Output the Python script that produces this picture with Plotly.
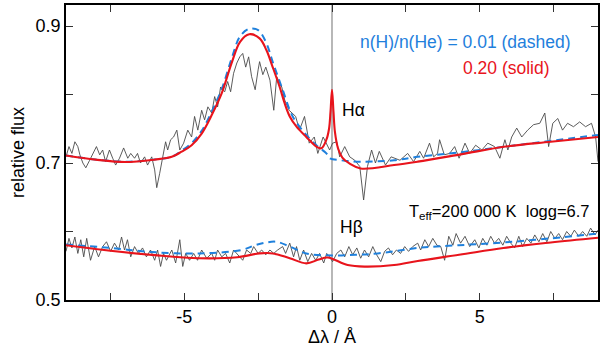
import plotly.graph_objects as go

# ---------------- data ----------------
# observed spectrum, H-alpha region (upper)
obs_a_x = [-9.0, -8.9, -8.8, -8.7, -8.6, -8.53, -8.43, -8.33, -8.2, -8.07, -7.97, -7.86, -7.76, -7.66,
           -7.53, -7.42, -7.32, -7.19, -7.05, -6.91, -6.81, -6.68, -6.58, -6.48, -6.34, -6.24, -6.1,
           -6.0, -5.93, -5.83, -5.73, -5.63, -5.56, -5.46, -5.36, -5.25, -5.15, -5.02, -4.88, -4.75,
           -4.65, -4.54, -4.41, -4.31, -4.2, -4.07, -3.97, -3.87, -3.77, -3.63, -3.53, -3.43, -3.33,
           -3.22, -3.12, -3.02, -2.92, -2.82, -2.72, -2.6, -2.5, -2.45, -2.34, -2.24, -2.1, -1.97,
           -1.87, -1.7, -1.6, -1.45, -1.23, -1.1, -0.93, -0.77, -0.6, -0.48, -0.3, -0.14, -0.08,
           0.02, 0.16, 0.26, 0.43, 0.6, 0.77, 0.94, 1.07, 1.2, 1.34, 1.47, 1.6, 1.81, 2.0, 2.3,
           2.56, 2.76, 2.97, 3.1, 3.3, 3.44, 3.57, 3.64, 3.8, 3.98, 4.15, 4.3, 4.5, 4.66, 4.86,
           5.07, 5.27, 5.5, 5.68, 5.85, 5.95, 6.08, 6.25, 6.42, 6.62, 6.82, 7.03, 7.2, 7.33, 7.47,
           7.64, 7.8, 7.97, 8.17, 8.38, 8.58, 8.78, 8.92, 9.0]
obs_a_y = [0.709, 0.724, 0.714, 0.731, 0.724, 0.712, 0.700, 0.693, 0.704, 0.716, 0.724, 0.712, 0.719, 0.702,
           0.719, 0.707, 0.697, 0.707, 0.722, 0.707, 0.714, 0.707, 0.714, 0.700, 0.709, 0.697, 0.709,
           0.690, 0.664, 0.685, 0.709, 0.731, 0.719, 0.734, 0.738, 0.748, 0.719, 0.729, 0.748, 0.738,
           0.768, 0.748, 0.777, 0.763, 0.782, 0.773, 0.797, 0.782, 0.811, 0.804, 0.819, 0.804, 0.831,
           0.846, 0.855, 0.860, 0.840, 0.855, 0.826, 0.807, 0.836, 0.848, 0.829, 0.840, 0.821, 0.777,
           0.826, 0.811, 0.792, 0.777, 0.768, 0.748, 0.768, 0.729, 0.738, 0.714, 0.738, 0.724, 0.719,
           0.729, 0.731, 0.709, 0.724, 0.709, 0.704, 0.695, 0.646, 0.695, 0.719, 0.700, 0.717, 0.697,
           0.709, 0.704, 0.714, 0.702, 0.717, 0.707, 0.729, 0.709, 0.714, 0.734, 0.712, 0.714, 0.724,
           0.707, 0.729, 0.714, 0.726, 0.719, 0.729, 0.724, 0.707, 0.734, 0.719, 0.738, 0.751, 0.738,
           0.748, 0.756, 0.758, 0.773, 0.724, 0.758, 0.765, 0.748, 0.758, 0.753, 0.760, 0.753, 0.758,
           0.738, 0.702]

# observed spectrum, H-beta region (lower)
obs_b_x = [-9.0, -8.9, -8.8, -8.7, -8.6, -8.5, -8.4, -8.3, -8.17, -8.03, -7.9, -7.76, -7.63, -7.49,
           -7.36, -7.22, -7.12, -7.02, -6.92, -6.81, -6.68, -6.55, -6.41, -6.28, -6.14, -6.0, -5.9,
           -5.8, -5.7, -5.6, -5.42, -5.29, -5.15, -5.05, -4.95, -4.82, -4.68, -4.55, -4.41, -4.24,
           -4.07, -3.97, -3.87, -3.73, -3.6, -3.46, -3.33, -3.2, -3.02, -2.89, -2.75, -2.65, -2.5,
           -2.38, -2.24, -2.1, -1.97, -1.84, -1.67, -1.57, -1.43, -1.3, -1.2, -1.09, -0.96, -0.82,
           -0.69, -0.55, -0.42, -0.28, -0.18, -0.08, 0.02, 0.16, 0.3, 0.43, 0.57, 0.7, 0.84, 0.97,
           1.1, 1.24, 1.38, 1.51, 1.65, 1.78, 1.91, 2.05, 2.18, 2.32, 2.46, 2.59, 2.73, 2.9, 3.0,
           3.14, 3.27, 3.41, 3.55, 3.68, 3.81, 3.95, 4.09, 4.2, 4.35, 4.5, 4.66, 4.83, 4.97, 5.1,
           5.24, 5.37, 5.5, 5.64, 5.78, 5.91, 6.05, 6.18, 6.32, 6.45, 6.59, 6.73, 6.86, 7.0, 7.13,
           7.27, 7.4, 7.54, 7.67, 7.8, 7.94, 8.08, 8.2, 8.35, 8.48, 8.62, 8.75, 8.9, 9.0]
obs_b_y = [0.571, 0.590, 0.576, 0.592, 0.568, 0.588, 0.563, 0.590, 0.558, 0.578, 0.563, 0.578, 0.585, 0.571,
           0.583, 0.573, 0.592, 0.573, 0.588, 0.563, 0.578, 0.568, 0.576, 0.563, 0.573, 0.558, 0.573,
           0.549, 0.568, 0.558, 0.573, 0.554, 0.588, 0.549, 0.568, 0.558, 0.568, 0.558, 0.573, 0.561,
           0.568, 0.558, 0.573, 0.563, 0.568, 0.554, 0.573, 0.566, 0.558, 0.573, 0.568, 0.578, 0.568,
           0.573, 0.566, 0.573, 0.568, 0.573, 0.578, 0.568, 0.583, 0.563, 0.578, 0.558, 0.573, 0.556,
           0.568, 0.558, 0.568, 0.554, 0.568, 0.563, 0.556, 0.568, 0.573, 0.563, 0.578, 0.566, 0.576,
           0.561, 0.573, 0.563, 0.578, 0.566, 0.556, 0.571, 0.576, 0.566, 0.573, 0.568, 0.578, 0.571,
           0.578, 0.583, 0.573, 0.588, 0.578, 0.590, 0.580, 0.578, 0.558, 0.593, 0.580, 0.597, 0.583,
           0.593, 0.578, 0.588, 0.576, 0.590, 0.580, 0.593, 0.583, 0.590, 0.580, 0.593, 0.583, 0.576,
           0.593, 0.578, 0.590, 0.583, 0.595, 0.585, 0.597, 0.585, 0.600, 0.590, 0.597, 0.588, 0.600,
           0.593, 0.602, 0.593, 0.600, 0.593, 0.605, 0.595, 0.602]

# model n(H)/n(He)=0.20 (solid), H-alpha
sol_a_x = [-9.0, -8.0, -7.0, -6.0, -5.42, -5.09, -4.75, -4.41, -4.07, -3.73, -3.40, -3.11, -2.8,
           -2.45, -2.22, -2.01, -1.77, -1.60, -1.43, -1.20, -0.87, -0.53, -0.36, -0.19, -0.1, -0.05,
           0.0, 0.05, 0.1, 0.2, 0.35, 0.6, 0.97, 2.1, 2.9, 4.4, 5.88, 7.4, 9.0]
sol_a_y = [0.711, 0.705, 0.7015, 0.705, 0.709, 0.7165, 0.726, 0.743, 0.770, 0.802, 0.8455, 0.877, 0.888,
           0.882, 0.865, 0.8405, 0.811, 0.787, 0.768, 0.753, 0.738, 0.724, 0.7215, 0.734, 0.750, 0.775,
           0.807, 0.775, 0.745, 0.722, 0.708, 0.699, 0.692, 0.697, 0.702, 0.713, 0.724, 0.731, 0.738]

# model n(H)/n(He)=0.01 (dashed), H-alpha
das_a_x = [-9.0, -8.0, -7.0, -6.0, -5.42, -5.09, -4.75, -4.41, -4.07, -3.73, -3.40, -3.11, -2.8,
           -2.5, -2.22, -2.01, -1.67, -1.33, -0.87, -0.53, -0.19, -0.08, 0.3, 0.97, 2.1, 2.9, 4.5,
           5.88, 9.0]
das_a_y = [0.711, 0.705, 0.702, 0.705, 0.709, 0.718, 0.729, 0.747, 0.775, 0.808, 0.852, 0.885, 0.896,
           0.894, 0.875, 0.848, 0.807, 0.768, 0.741, 0.726, 0.714, 0.707, 0.704, 0.702, 0.704, 0.709,
           0.7165, 0.724, 0.741]

# model n(H)/n(He)=0.20 (solid), H-beta
sol_b_x = [-9.0, -7.5, -6.0, -4.5, -3.2, -2.45, -2.0, -1.43, -0.87, -0.45, -0.15, 0.53, 1.1, 2.1, 2.9,
           4.3, 5.8, 7.4, 9.0]
sol_b_y = [0.580, 0.572, 0.5655, 0.561, 0.5625, 0.568, 0.568, 0.561, 0.5535, 0.559, 0.562, 0.551,
           0.5487, 0.551, 0.557, 0.566, 0.576, 0.584, 0.591]

# model n(H)/n(He)=0.01 (dashed), H-beta
das_b_x = [-9.0, -7.5, -6.1, -4.5, -3.06, -2.6, -2.22, -1.88, -1.43, -0.87, 0.0, 0.8, 1.55, 2.9, 4.3,
           5.8, 7.4, 9.0]
das_b_y = [0.581, 0.576, 0.570, 0.568, 0.573, 0.580, 0.584, 0.585, 0.578, 0.568, 0.565, 0.566, 0.568,
           0.576, 0.580, 0.584, 0.590, 0.597]

x_ticks = [-5, 0, 5]
y_ticks = [0.5, 0.7, 0.9]

RED = "#e8141c"
BLUE = "#1f80dc"
GRAY = "#4a4a4a"
FONT = "Liberation Sans, Arial, sans-serif"

fig = go.Figure()

for xs, ys in [(obs_a_x, obs_a_y), (obs_b_x, obs_b_y)]:
    fig.add_trace(go.Scatter(x=xs, y=ys, mode="lines",
                             line=dict(color=GRAY, width=0.9), showlegend=False))
for xs, ys in [(das_a_x, das_a_y), (das_b_x, das_b_y)]:
    fig.add_trace(go.Scatter(x=xs, y=ys, mode="lines", line_shape="spline",
                             line=dict(color=BLUE, width=2, dash="7px,5px"), showlegend=False))
for xs, ys in [(sol_a_x, sol_a_y), (sol_b_x, sol_b_y)]:
    fig.add_trace(go.Scatter(x=xs, y=ys, mode="lines", line_shape="spline",
                             line=dict(color=RED, width=2.1), showlegend=False))

fig.add_vline(x=0, line=dict(color="#888888", width=1.2), layer="below")

annots = [
    dict(x=8.15, y=0.8766, text="n(H)/n(He) = 0.01 (dashed)", xanchor="right",
         font=dict(color=BLUE, size=17.5, family=FONT)),
    dict(x=7.44, y=0.8387, text="0.20 (solid)", xanchor="right",
         font=dict(color=RED, size=17.5, family=FONT)),
    dict(x=0.26, y=0.7774, text="Hα", xanchor="left",
         font=dict(color="black", size=17.5, family=FONT)),
    dict(x=0.19, y=0.6066, text="Hβ", xanchor="left",
         font=dict(color="black", size=17.5, family=FONT)),
    dict(x=2.53, y=0.628, text="T<sub>eff</sub>=200 000 K  logg=6.7", xanchor="left",
         font=dict(color="black", size=16.5, family=FONT)),
]
for a in annots:
    fig.add_annotation(xref="x", yref="y", showarrow=False, yanchor="middle", **a)

axis_common = dict(showgrid=False, zeroline=False, showline=True, linecolor="black",
                   linewidth=1.5, mirror="allticks", ticks="inside", ticklen=7,
                   tickwidth=1, tickcolor="#333333",
                   tickfont=dict(size=18, color="black", family=FONT))

fig.update_xaxes(range=[-9, 9], tickvals=x_ticks, ticktext=[str(v) for v in x_ticks],
                 minor=dict(tickvals=[-7.5, -2.5, 2.5, 7.5], ticks="inside", ticklen=7,
                            tickcolor="#333333"),
                 title=dict(text="Δλ / Å", font=dict(size=18, family=FONT, color="black"),
                            standoff=0),
                 **axis_common)
fig.update_yaxes(range=[0.5, 0.9307], tickvals=y_ticks, ticktext=[f"{v:.1f}" for v in y_ticks],
                 minor=dict(tickvals=[0.6, 0.8], ticks="inside", ticklen=7, tickcolor="#333333"),
                 title=dict(text="relative flux", font=dict(size=18, family=FONT, color="black"),
                            standoff=6),
                 **axis_common)

fig.update_layout(width=600, height=347, margin=dict(l=66, r=2, t=5, b=47, autoexpand=False),
                  plot_bgcolor="white", paper_bgcolor="white", showlegend=False)

fig.write_html("out.html", config={"displayModeBar": False},
               post_script="document.body.style.margin='0px';document.body.style.padding='0px';")
